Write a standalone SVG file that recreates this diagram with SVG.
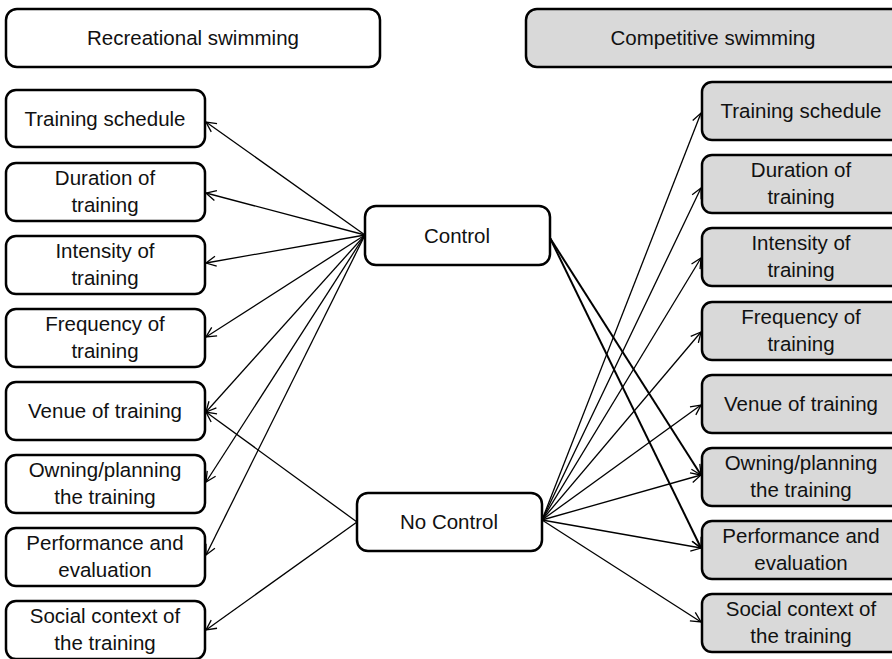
<svg xmlns="http://www.w3.org/2000/svg" width="892" height="659" viewBox="0 0 892 659">
<style>
.box{fill:#fff;stroke:#000;stroke-width:2.5}
.gray{fill:#d9d9d9}
text{font-family:"Liberation Sans",Arial,sans-serif;font-size:20.5px;fill:#111;text-anchor:middle}
.c{fill:none;stroke:#000;stroke-width:1.3;marker-end:url(#arr)}
.b{stroke-width:2}
</style>
<defs>
<marker id="arr" markerUnits="userSpaceOnUse" markerWidth="12" markerHeight="12" refX="10" refY="5" orient="auto" viewBox="0 0 12 10" overflow="visible">
<path d="M0,0 L10,5 L0,10" fill="none" stroke="#000" stroke-width="1.3"/>
</marker>
</defs>
<rect width="892" height="659" fill="#fff"/>
<g id="connectors">
<line class="c" x1="365" y1="235" x2="206" y2="122"/>
<line class="c" x1="365" y1="235" x2="206" y2="193"/>
<line class="c" x1="365" y1="235" x2="206" y2="263"/>
<line class="c" x1="365" y1="235" x2="206" y2="337"/>
<line class="c" x1="365" y1="235" x2="206" y2="412"/>
<line class="c" x1="365" y1="235" x2="206" y2="482"/>
<line class="c" x1="365" y1="235" x2="206" y2="555"/>
<line class="c" x1="357" y1="522" x2="206" y2="412"/>
<line class="c" x1="357" y1="522" x2="206" y2="630"/>
<line class="c b" x1="550" y1="238" x2="701" y2="475"/>
<line class="c b" x1="550" y1="238" x2="701" y2="548"/>
<line class="c" x1="542" y1="520" x2="701" y2="113"/>
<line class="c" x1="542" y1="520" x2="701" y2="188"/>
<line class="c" x1="542" y1="520" x2="701" y2="258"/>
<line class="c" x1="542" y1="520" x2="701" y2="332"/>
<line class="c" x1="542" y1="520" x2="701" y2="405"/>
<line class="c" x1="542" y1="520" x2="701" y2="475"/>
<line class="c" x1="542" y1="520" x2="701" y2="548"/>
<line class="c" x1="542" y1="520" x2="701" y2="622"/>
</g>
<g id="hdr-rec"><rect class="box" x="6" y="9" width="374" height="58" rx="11"/><text x="193" y="45">Recreational swimming</text></g>
<g id="hdr-comp"><rect class="box gray" x="526" y="9" width="376" height="58" rx="11"/><text x="713" y="45">Competitive swimming</text></g>
<g id="ctrl"><rect class="box" x="365" y="206" width="185" height="59" rx="11"/><text x="457" y="243">Control</text></g>
<g id="noctrl"><rect class="box" x="357" y="493" width="185" height="58" rx="11"/><text x="449" y="529">No Control</text></g>
<g id="l1"><rect class="box" x="6" y="90" width="199" height="57" rx="10"/><text x="105" y="126">Training schedule</text></g>
<g id="l2"><rect class="box" x="6" y="163" width="199" height="58" rx="10"/><text x="105" y="185">Duration of</text><text x="105" y="212">training</text></g>
<g id="l3"><rect class="box" x="6" y="236" width="199" height="58" rx="10"/><text x="105" y="258">Intensity of</text><text x="105" y="285">training</text></g>
<g id="l4"><rect class="box" x="6" y="309" width="199" height="58" rx="10"/><text x="105" y="331">Frequency of</text><text x="105" y="358">training</text></g>
<g id="l5"><rect class="box" x="6" y="382" width="199" height="58" rx="10"/><text x="105" y="418">Venue of training</text></g>
<g id="l6"><rect class="box" x="6" y="455" width="199" height="58" rx="10"/><text x="105" y="477">Owning/planning</text><text x="105" y="504">the training</text></g>
<g id="l7"><rect class="box" x="6" y="528" width="199" height="58" rx="10"/><text x="105" y="550">Performance and</text><text x="105" y="577">evaluation</text></g>
<g id="l8"><rect class="box" x="6" y="601" width="199" height="58" rx="10"/><text x="105" y="623">Social context of</text><text x="105" y="650">the training</text></g>
<g id="r1"><rect class="box gray" x="702" y="82" width="199" height="58" rx="10"/><text x="801" y="118">Training schedule</text></g>
<g id="r2"><rect class="box gray" x="702" y="155" width="199" height="58" rx="10"/><text x="801" y="177">Duration of</text><text x="801" y="204">training</text></g>
<g id="r3"><rect class="box gray" x="702" y="228" width="199" height="58" rx="10"/><text x="801" y="250">Intensity of</text><text x="801" y="277">training</text></g>
<g id="r4"><rect class="box gray" x="702" y="302" width="199" height="58" rx="10"/><text x="801" y="324">Frequency of</text><text x="801" y="351">training</text></g>
<g id="r5"><rect class="box gray" x="702" y="375" width="199" height="58" rx="10"/><text x="801" y="411">Venue of training</text></g>
<g id="r6"><rect class="box gray" x="702" y="448" width="199" height="58" rx="10"/><text x="801" y="470">Owning/planning</text><text x="801" y="497">the training</text></g>
<g id="r7"><rect class="box gray" x="702" y="521" width="199" height="58" rx="10"/><text x="801" y="543">Performance and</text><text x="801" y="570">evaluation</text></g>
<g id="r8"><rect class="box gray" x="702" y="594" width="199" height="58" rx="10"/><text x="801" y="616">Social context of</text><text x="801" y="643">the training</text></g>
</svg>
